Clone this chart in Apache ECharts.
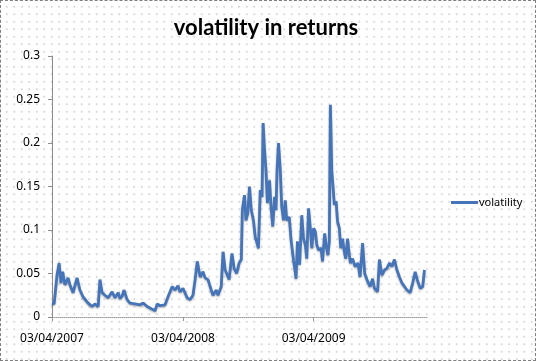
<!DOCTYPE html>
<html>
<head>
<meta charset="utf-8">
<script src="https://cdn.jsdelivr.net/npm/echarts@6/dist/echarts.min.js"></script>
<style>
  html, body { margin: 0; padding: 0; background: #fff; }
  #wrap {
    width: 536px; height: 361px; box-sizing: border-box;
    border: 1px dashed #7f7f7f;
    background-color: #fff;
    background-image: radial-gradient(circle, #cfcfcf 0.6px, transparent 0.9px);
    background-size: 7.5px 7.5px;
    background-position: 2px 2px;
  }
  #chart { width: 534px; height: 359px; }
</style>
</head>
<body>
<div id="wrap"><div id="chart"></div></div>
<script>
// Days since 03/04/2007 for each observation
const days = [0,6,11,14,20,25,30,36,45,50,59,70,78,87,101,112,120,129,134,140,
  148,157,168,176,185,190,196,201,210,218,232,246,255,266,280,288,294,302,316,324,
  336,344,352,358,366,378,386,394,400,406,414,422,428,436,445,450,459,464,473,478,
  484,489,495,503,509,516,523,529,532,538,542,547,552,557,563,568,573,577,582,587,
  590,594,598,602,608,612,617,622,626,629,633,638,642,647,652,656,663,668,675,680,
  682,686,692,698,703,708,712,717,722,726,731,736,740,745,752,756,762,766,771,775,
  778,782,785,789,794,798,803,807,812,817,821,826,831,834,840,847,855,861,868,874,
  880,889,896,901,910,915,922,929,936,943,950,957,964,971,978,985,992,1001,1008,1015,
  1022,1029,1036,1041];

const volatility = [0.016,0.015,0.014,0.048,0.062,0.039,0.052,0.037,0.045,0.037,0.028,0.045,0.031,0.023,0.016,0.012,0.015,0.012,0.043,0.028,
  0.025,0.022,0.029,0.022,0.028,0.021,0.024,0.031,0.020,0.016,0.015,0.014,0.016,0.012,0.009,0.007,0.015,0.013,0.014,0.023,
  0.035,0.031,0.036,0.029,0.033,0.022,0.020,0.025,0.043,0.064,0.046,0.052,0.045,0.043,0.031,0.025,0.031,0.025,0.035,0.075,
  0.054,0.056,0.043,0.073,0.056,0.050,0.062,0.066,0.123,0.140,0.111,0.119,0.150,0.123,0.111,0.092,0.085,0.079,0.146,0.138,
  0.223,0.192,0.169,0.131,0.157,0.127,0.104,0.138,0.123,0.169,0.200,0.169,0.127,0.111,0.134,0.111,0.115,0.089,0.065,0.051,
  0.044,0.087,0.060,0.117,0.090,0.083,0.067,0.125,0.102,0.079,0.102,0.098,0.083,0.077,0.079,0.064,0.096,0.083,0.071,0.087,
  0.244,0.167,0.152,0.129,0.133,0.110,0.102,0.079,0.090,0.075,0.067,0.090,0.071,0.062,0.067,0.058,0.062,0.046,0.085,0.050,
  0.043,0.035,0.044,0.033,0.029,0.066,0.048,0.054,0.056,0.062,0.058,0.066,0.054,0.046,0.039,0.035,0.031,0.028,0.039,0.052,
  0.041,0.033,0.035,0.054];

const tickDays = [0, 366, 731];
const tickLabels = ['03/04/2007', '03/04/2008', '03/04/2009'];
const seriesName = 'volatility';
const titleText = 'volatility in returns';

const data = days.map((d, i) => [d, volatility[i]]);
if (days.length !== volatility.length) console.error('length mismatch', days.length, volatility.length);

const chart = echarts.init(document.getElementById('chart'), null, { renderer: 'canvas' });
const font = '"Noto Sans", "Open Sans", sans-serif';
chart.setOption({
  animation: false,
  backgroundColor: 'transparent',
  title: {
    text: titleText,
    left: 260, top: 11, textAlign: 'center',
    textStyle: { fontFamily: 'Lato, "Open Sans", sans-serif', fontWeight: 'bold', fontSize: 22, color: '#000' }
  },
  legend: {
    data: [seriesName],
    orient: 'vertical',
    left: 445, top: 191,
    icon: 'rect', itemWidth: 27, itemHeight: 3, itemGap: 5,
    textStyle: { fontFamily: font, fontSize: 11, color: '#000', padding: [0, 0, 0, -4] }
  },
  grid: { left: 51, right: 108, top: 55, bottom: 43, containLabel: false },
  xAxis: {
    type: 'value', min: 0, max: 1048,
    axisLine: { show: true, lineStyle: { color: '#9a9a9a', width: 1, type: 'dotted' } },
    axisTick: { show: true, customValues: tickDays, length: 4, lineStyle: { color: '#9a9a9a' } },
    axisLabel: {
      customValues: tickDays, margin: 16,
      fontFamily: font, fontSize: 12, color: '#000',
      formatter: (v) => tickLabels[tickDays.indexOf(v)] || ''
    },
    splitLine: { show: false }
  },
  yAxis: {
    type: 'value', min: 0, max: 0.3, interval: 0.05,
    axisLine: { show: true, lineStyle: { color: '#8c8c8c', width: 1 } },
    axisTick: { show: true, length: 4, lineStyle: { color: '#8c8c8c' } },
    axisLabel: { fontFamily: font, fontSize: 12, color: '#000', margin: 12 },
    splitLine: { show: false }
  },
  series: [{
    name: seriesName,
    type: 'line',
    data: data,
    showSymbol: false,
    symbol: 'none',
    lineStyle: { color: '#4674b8', width: 2.8, shadowColor: 'rgba(0,0,0,0.3)', shadowBlur: 2, shadowOffsetY: 1 },
    itemStyle: { color: '#4674b8' }
  }]
});
</script>
</body>
</html>
